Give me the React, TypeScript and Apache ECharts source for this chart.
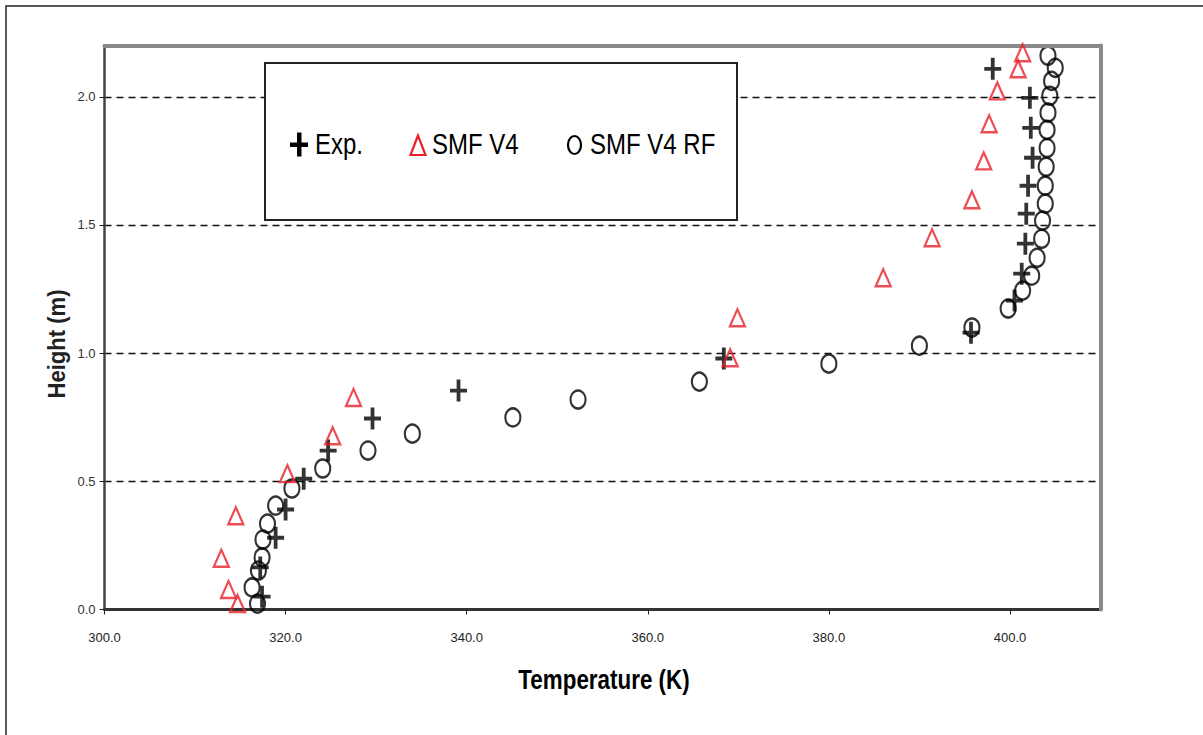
import React, { useEffect, useRef } from "react";
import * as echarts from "echarts";

// Experimental (+)
const expT = [317.4, 317.2, 318.9, 320.0, 322.0, 324.7, 329.6, 339.1, 368.4, 395.7, 400.5, 401.3, 401.7, 401.8, 402.0, 402.5, 402.3, 402.2, 398.1];
const expH = [0.05, 0.164, 0.28, 0.39, 0.51, 0.62, 0.745, 0.854, 0.979, 1.08, 1.205, 1.31, 1.427, 1.544, 1.653, 1.762, 1.879, 1.996, 2.109];

// SMF V4 (triangles)
const smfT = [314.7, 313.7, 312.9, 314.5, 320.2, 325.2, 327.5, 369.1, 369.9, 386.0, 391.4, 395.8, 397.1, 397.7, 398.6, 400.9, 401.4];
const smfH = [0.023, 0.078, 0.2, 0.366, 0.53, 0.678, 0.827, 0.982, 1.138, 1.294, 1.45, 1.598, 1.75, 1.895, 2.023, 2.109, 2.172];

// SMF V4 RF (circles)
const rfT = [316.9, 316.3, 317.0, 317.4, 317.5, 318.0, 318.9, 320.7, 324.1, 329.1, 334.0, 345.1, 352.3, 365.7, 380.0, 390.0, 395.8, 399.8, 401.4, 402.4, 403.0, 403.5, 403.6, 403.9, 403.9, 404.0, 404.1, 404.1, 404.2, 404.4, 404.6, 405.0, 404.2];
const rfH = [0.023, 0.086, 0.152, 0.203, 0.273, 0.335, 0.405, 0.472, 0.55, 0.62, 0.686, 0.749, 0.819, 0.889, 0.959, 1.029, 1.1, 1.174, 1.244, 1.302, 1.372, 1.446, 1.517, 1.583, 1.653, 1.727, 1.8, 1.871, 1.938, 2.004, 2.062, 2.113, 2.16];

const xTicks = [300, 320, 340, 360, 380, 400];
const yTicks = [0, 0.5, 1.0, 1.5, 2.0];

const seriesNames = ["Exp.", "SMF V4", "SMF V4 RF"];
const xTitle = "Temperature (K)";
const yTitle = "Height (m)";

const RED = "#e8202a";
const PLUS = "path://M7,0H11V9.5H18V13.5H11V23H7V13.5H0V9.5H7Z";

const zip = (a: number[], b: number[]) => a.map((v, i) => [v, b[i]]);

export default function App() {
  const ref = useRef<HTMLDivElement>(null);
  useEffect(() => {
    const chart = echarts.init(ref.current!, null, { renderer: "svg" });
    const labelFont = "'Liberation Sans', Arial, sans-serif";
    chart.setOption({
      animation: false,
      backgroundColor: "#fff",
      grid: { left: 104.5, top: 45.5, right: 102.5, bottom: 125.5, show: false },
      xAxis: [
        {
          type: "value",
          min: 300,
          max: 410,
          interval: 20,
          position: "bottom",
          axisLine: { show: true, onZero: false, lineStyle: { color: "#333", width: 3 } },
          axisTick: { show: true, length: 5, customValues: xTicks, lineStyle: { color: "#222", width: 1 } },
          axisLabel: {
            customValues: xTicks,
            formatter: (v: number) => v.toFixed(1),
            fontSize: 13,
            fontFamily: labelFont,
            color: "#222",
            margin: 21,
          },
          splitLine: { show: false },
        },
        {
          type: "value",
          min: 300,
          max: 410,
          position: "top",
          z: 5,
          axisLine: { show: true, onZero: false, lineStyle: { color: "#8a8a8a", width: 4 } },
          axisTick: { show: false },
          axisLabel: { show: false },
          splitLine: { show: false },
        },
      ],
      yAxis: [
        {
          type: "value",
          min: 0,
          max: 2.2,
          interval: 0.5,
          position: "left",
          axisLine: { show: true, onZero: false, lineStyle: { color: "#444", width: 2.5 } },
          axisTick: { show: true, length: 5, customValues: yTicks, lineStyle: { color: "#222", width: 1 } },
          axisLabel: {
            customValues: yTicks,
            formatter: (v: number) => v.toFixed(1),
            fontSize: 13,
            fontFamily: labelFont,
            color: "#333",
            margin: 9,
          },
          splitLine: { show: true, lineStyle: { color: "#111", width: 1.3, type: [7, 5] } },
        },
        {
          type: "value",
          min: 0,
          max: 2.2,
          position: "right",
          z: 5,
          axisLine: { show: true, onZero: false, lineStyle: { color: "#8a8a8a", width: 4 } },
          axisTick: { show: false },
          axisLabel: { show: false },
          splitLine: { show: false },
        },
      ],
      series: [
        {
          name: seriesNames[2],
          type: "scatter",
          data: zip(rfT, rfH),
          symbol: "circle",
          symbolSize: [15, 18],
          itemStyle: { color: "rgba(255,255,255,0)", borderColor: "#000", borderWidth: 2.3 },
          z: 3,
        },
        {
          name: seriesNames[0],
          type: "scatter",
          data: zip(expT, expH),
          symbol: PLUS,
          symbolSize: [17, 22],
          itemStyle: { color: "#000" },
          z: 4,
        },
        {
          name: seriesNames[1],
          type: "scatter",
          data: zip(smfT, smfH),
          symbol: "triangle",
          symbolSize: [15, 17],
          itemStyle: { color: "rgba(255,255,255,0)", borderColor: RED, borderWidth: 2.3 },
          z: 5,
        },
      ],
      graphic: [
        {
          type: "polyline",
          shape: { points: [[6, 735], [6, 6], [1203, 6]] },
          style: { stroke: "#222", lineWidth: 1.5, fill: null },
          silent: true,
        },
        {
          type: "rect",
          shape: { x: 265, y: 63, width: 472, height: 157 },
          style: { fill: "#fff", stroke: "#222", lineWidth: 2 },
          z: 20,
        },
        { type: "rect", shape: { x: 290, y: 142.5, width: 18, height: 4.5 }, style: { fill: "#000" }, z: 21 },
        { type: "rect", shape: { x: 297, y: 132.5, width: 4.5, height: 24 }, style: { fill: "#000" }, z: 21 },
        {
          type: "polygon",
          shape: { points: [[418, 135.5], [410.5, 155], [425.5, 155]] },
          style: { fill: null, stroke: RED, lineWidth: 2.2 },
          z: 21,
        },
        {
          type: "ellipse",
          shape: { cx: 574.5, cy: 145, rx: 6.5, ry: 9 },
          style: { fill: null, stroke: "#000", lineWidth: 2.2 },
          z: 21,
        },
        {
          type: "text",
          x: 315,
          y: 144,
          scaleX: 0.8,
          style: { text: seriesNames[0], font: "30px 'Liberation Sans', Arial", fill: "#000", align: "left", verticalAlign: "middle" },
          z: 21,
        },
        {
          type: "text",
          x: 432,
          y: 144,
          scaleX: 0.8,
          style: { text: seriesNames[1], font: "30px 'Liberation Sans', Arial", fill: "#000", align: "left", verticalAlign: "middle" },
          z: 21,
        },
        {
          type: "text",
          x: 590,
          y: 144,
          scaleX: 0.8,
          style: { text: seriesNames[2], font: "30px 'Liberation Sans', Arial", fill: "#000", align: "left", verticalAlign: "middle" },
          z: 21,
        },
        {
          type: "text",
          x: 604,
          y: 679,
          scaleX: 0.8,
          style: { text: xTitle, font: "bold 28px 'Liberation Sans', Arial", fill: "#000", align: "center", verticalAlign: "middle" },
        },
        {
          type: "text",
          x: 57,
          y: 344,
          rotation: Math.PI / 2,
          scaleX: 0.92,
          style: { text: yTitle, font: "bold 24px 'Liberation Sans', Arial", fill: "#222", align: "center", verticalAlign: "middle" },
        },
      ],
    });
    return () => chart.dispose();
  }, []);
  return <div ref={ref} style={{ position: "absolute", left: 0, top: 0, width: 1203, height: 735 }} />;
}
